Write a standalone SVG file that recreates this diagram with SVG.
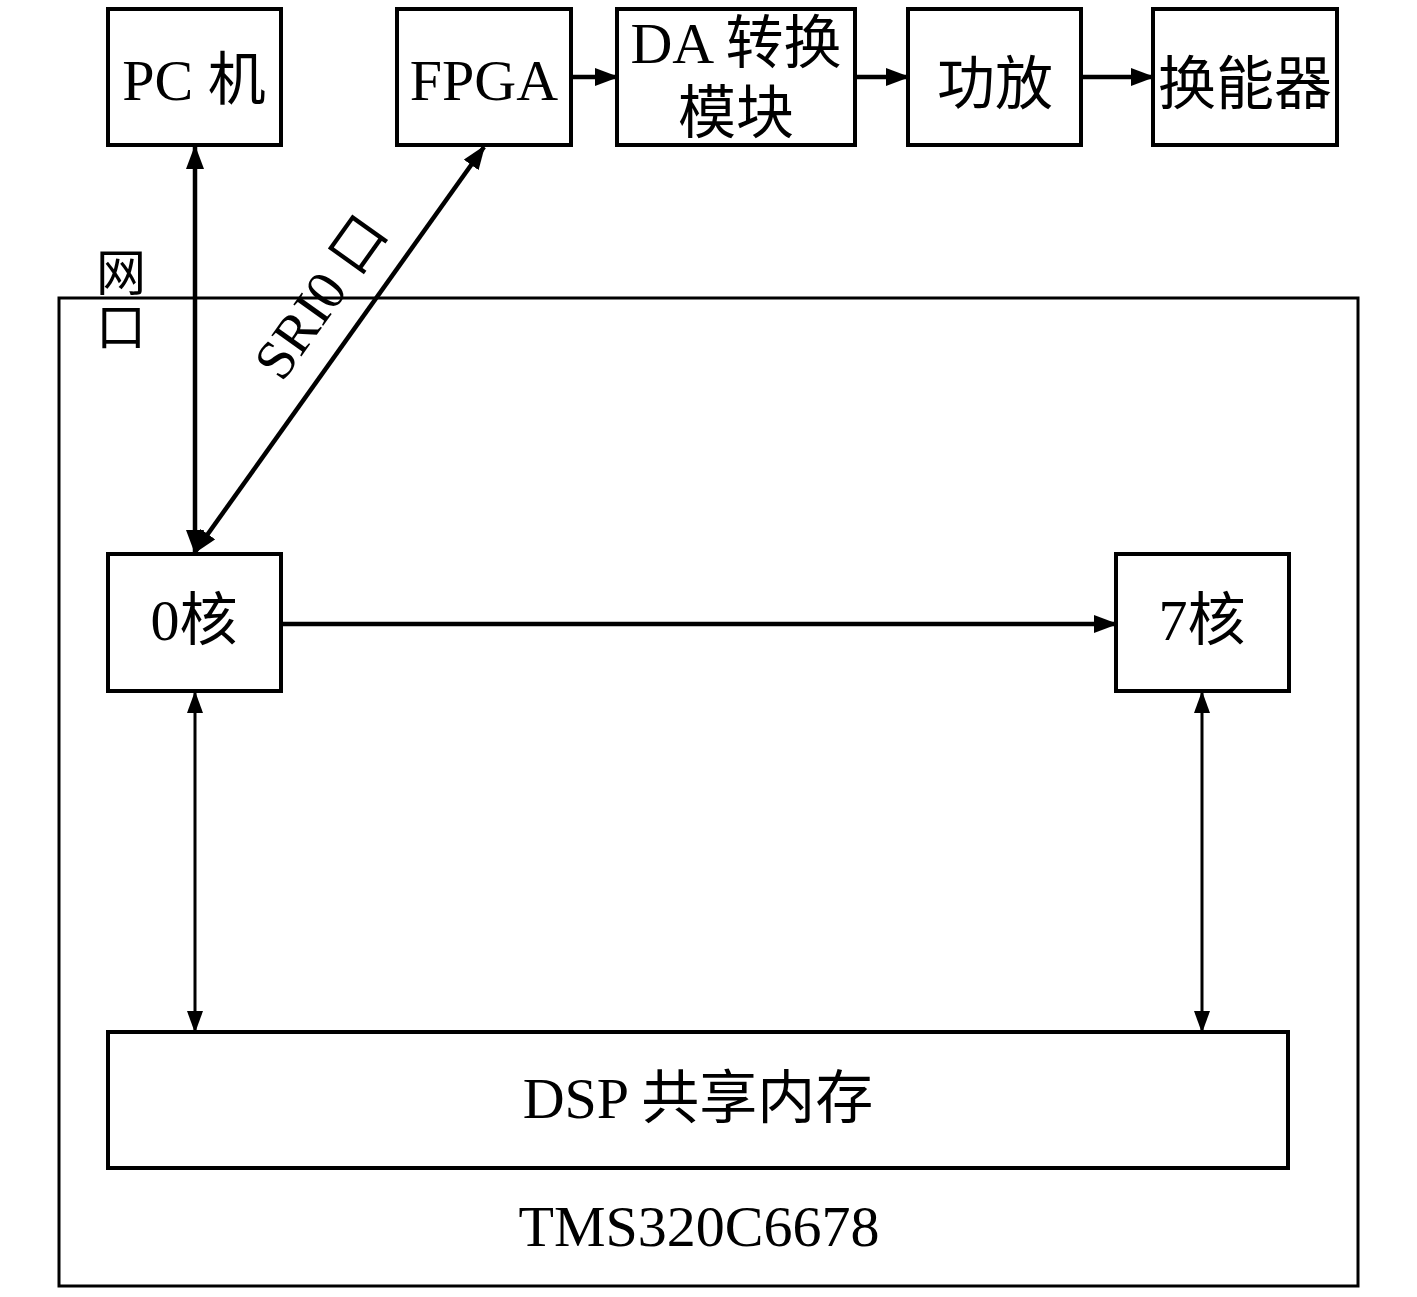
<svg xmlns="http://www.w3.org/2000/svg" width="1417" height="1297" viewBox="0 0 1417 1297">
<style>
.box{fill:#fff;stroke:#000;stroke-width:4}
.outer{fill:none;stroke:#000;stroke-width:3}
.t{font-family:"Liberation Serif","Noto Sans CJK SC",serif;font-size:58px;fill:#000;text-anchor:middle}
.c{stroke:#000;fill:none}
.thin{stroke-width:3}
.thick{stroke-width:4.5}
</style>
<defs>
<marker id="ah" markerUnits="userSpaceOnUse" markerWidth="22" markerHeight="16" refX="20" refY="8" orient="auto-start-reverse" viewBox="0 0 22 16">
<path d="M0,0 L22,8 L0,16 Z" fill="#000"/>
</marker>
<marker id="ahb" markerUnits="userSpaceOnUse" markerWidth="24" markerHeight="18" refX="22" refY="9" orient="auto-start-reverse" viewBox="0 0 24 18">
<path d="M0,0 L24,9 L0,18 Z" fill="#000"/>
</marker>
</defs>
<rect width="1417" height="1297" fill="#fff"/>
<g id="tms">
<rect class="outer" x="59" y="298" width="1299" height="988"/>
<text class="t" x="699" y="1246">TMS320C6678</text>
</g>
<g id="pc"><rect class="box" x="108" y="9" width="173" height="136"/><text class="t" x="194" y="100">PC 机</text></g>
<g id="fpga"><rect class="box" x="397" y="9" width="174" height="136"/><text class="t" x="484" y="100">FPGA</text></g>
<g id="da"><rect class="box" x="617" y="9" width="238" height="136"/><text class="t" x="736" y="63">DA 转换</text><text class="t" x="736" y="133">模块</text></g>
<g id="amp"><rect class="box" x="908" y="9" width="173" height="136"/><text class="t" x="995" y="104">功放</text></g>
<g id="transducer"><rect class="box" x="1153" y="9" width="184" height="136"/><text class="t" x="1245" y="104">换能器</text></g>
<g id="core0"><rect class="box" x="108" y="554" width="173" height="137"/><text class="t" x="194" y="640">0核</text></g>
<g id="core7"><rect class="box" x="1116" y="554" width="173" height="137"/><text class="t" x="1202" y="640">7核</text></g>
<g id="mem"><rect class="box" x="108" y="1032" width="1180" height="136"/><text class="t" x="698" y="1118">DSP 共享内存</text></g>
<g id="connectors">
<line class="c thick" x1="571" y1="77" x2="617" y2="77" marker-end="url(#ahb)"/>
<line class="c thick" x1="855" y1="77" x2="908" y2="77" marker-end="url(#ahb)"/>
<line class="c thick" x1="1081" y1="77" x2="1153" y2="77" marker-end="url(#ahb)"/>
<line class="c thick" x1="195" y1="147" x2="195" y2="552" marker-start="url(#ahb)" marker-end="url(#ahb)"/>
<line class="c thick" x1="484" y1="147" x2="195" y2="552" marker-start="url(#ahb)" marker-end="url(#ahb)"/>
<line class="c thick" x1="281" y1="624" x2="1116" y2="624" marker-end="url(#ahb)"/>
<line class="c thin" x1="195" y1="693" x2="195" y2="1031" marker-start="url(#ah)" marker-end="url(#ah)"/>
<line class="c thin" x1="1202" y1="693" x2="1202" y2="1031" marker-start="url(#ah)" marker-end="url(#ah)"/>
<text class="t" style="font-size:50px" x="121" y="291">网</text>
<text class="t" style="font-size:50px" x="121" y="345">口</text>
<text class="t" style="font-size:56px" transform="translate(336,308) rotate(-54.5)" x="0" y="0">SRI0 口</text>
</g>
</svg>
